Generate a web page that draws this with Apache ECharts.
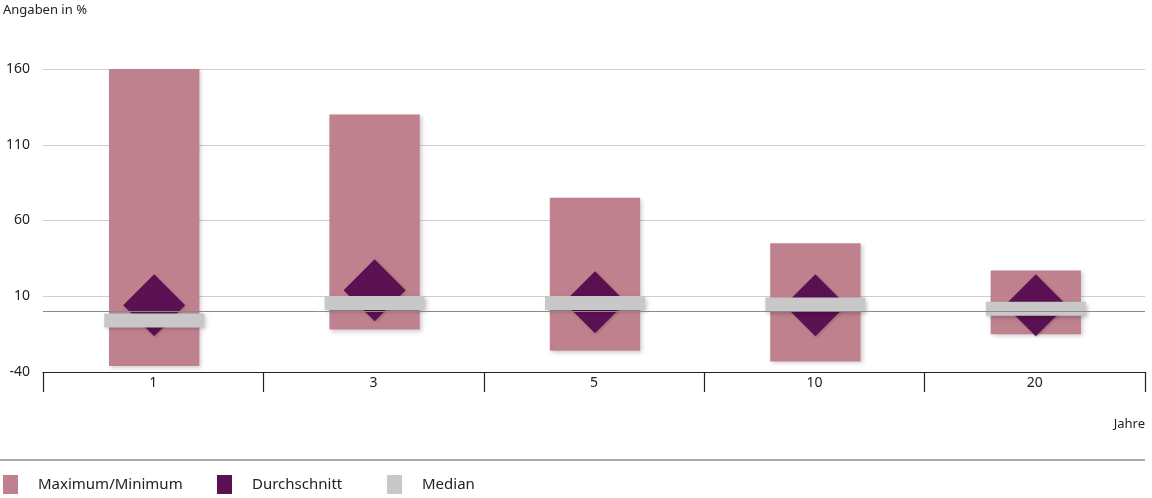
<!DOCTYPE html>
<html>
<head>
<meta charset="utf-8">
<script src="https://cdn.jsdelivr.net/npm/echarts@6/dist/echarts.min.js"></script>
<style>html,body{margin:0;padding:0;background:#fff;}#c{width:1152px;height:498px;}</style>
</head>
<body>
<div id="c"></div>
<script>
const categories = ['1', '3', '5', '10', '20'];
const maxValues = [160, 130, 75, 45, 27];
const minValues = [-36, -12, -26, -33, -15];
const averages = [4, 14, 6, 4, 4];
const medians = [-6, 5.5, 5.5, 4.5, 1.7];
const seriesNames = ['Maximum/Minimum', 'Durchschnitt', 'Median'];
const colors = ['#c0818f', '#5b1052', '#c8c8c8'];

const rangeData = categories.map((c, i) => [i, minValues[i], maxValues[i]]);
const font = '"Noto Sans", sans-serif';

const chart = echarts.init(document.getElementById('c'));
chart.setOption({
  animation: false,
  textStyle: { fontFamily: font },
  grid: { left: 43, right: 7, top: 69, bottom: 126 },
  xAxis: {
    type: 'category',
    data: categories,
    boundaryGap: true,
    axisLine: { onZero: false, lineStyle: { color: '#222', width: 1.2 } },
    axisTick: { show: true, length: 20, lineStyle: { color: '#222', width: 1.2 } },
    axisLabel: { color: '#222', fontSize: 14, margin: 4, fontFamily: font },
    splitLine: { show: false }
  },
  yAxis: {
    type: 'value',
    min: -40, max: 160, interval: 50,
    axisLine: { show: false },
    axisTick: { show: false },
    axisLabel: { color: '#222', fontSize: 14, margin: 13, fontFamily: font },
    splitLine: { lineStyle: { color: '#cfcfcf', width: 1 } }
  },
  legend: [0, 1, 2].map((k, idx) => ({
    left: [3, 217, 387][idx],
    top: 475,
    padding: 0,
    itemWidth: 15,
    itemHeight: 19,
    data: [{ name: seriesNames[k], icon: 'rect', itemStyle: { color: colors[k], opacity: 1 } }],
    textStyle: { color: '#222', fontSize: 15, fontFamily: font, padding: [0, 0, 0, 15] },
    selectedMode: false
  })),
  graphic: [
    { type: 'text', left: 3, top: 4, style: { text: 'Angaben in %', fontSize: 13, fill: '#222', fontFamily: font } },
    { type: 'text', right: 7, top: 418, style: { text: 'Jahre', fontSize: 13, fill: '#222', fontFamily: font } },
    { type: 'line', shape: { x1: 0, y1: 460, x2: 1145, y2: 460 }, style: { stroke: '#555', lineWidth: 1.2 } }
  ],
  series: [
    {
      name: seriesNames[0],
      type: 'custom',
      data: rangeData,
      encode: { x: 0, y: [1, 2] },
      itemStyle: { color: colors[0] },
      renderItem: function (params, api) {
        const x = api.value(0);
        const lo = api.coord([x, api.value(1)]);
        const hi = api.coord([x, api.value(2)]);
        const w = api.size([1, 0])[0] * 0.41;
        return {
          type: 'rect',
          shape: { x: lo[0] - w / 2 + 1, y: hi[1], width: w, height: lo[1] - hi[1] },
          style: { fill: colors[0], shadowBlur: 4, shadowColor: 'rgba(0,0,0,0.18)', shadowOffsetX: 2, shadowOffsetY: 2 }
        };
      },
      markLine: {
        silent: true,
        symbol: 'none',
        label: { show: false },
        lineStyle: { color: '#8a8a8a', width: 1, type: 'solid' },
        data: [{ yAxis: 0 }]
      },
      z: 2
    },
    {
      name: seriesNames[1],
      type: 'scatter',
      data: averages,
      symbol: 'diamond',
      symbolSize: [62, 62],
      symbolOffset: [1, 0],
      itemStyle: { color: colors[1], opacity: 1, shadowBlur: 3, shadowColor: 'rgba(0,0,0,0.2)', shadowOffsetX: 1, shadowOffsetY: 1 },
      z: 3
    },
    {
      name: seriesNames[2],
      type: 'scatter',
      data: medians,
      symbol: 'rect',
      symbolSize: [100, 14],
      symbolOffset: [1, 0],
      itemStyle: { color: colors[2], opacity: 1, shadowBlur: 4, shadowColor: 'rgba(0,0,0,0.2)', shadowOffsetX: 2, shadowOffsetY: 2 },
      z: 4
    }
  ]
});
</script>
</body>
</html>
